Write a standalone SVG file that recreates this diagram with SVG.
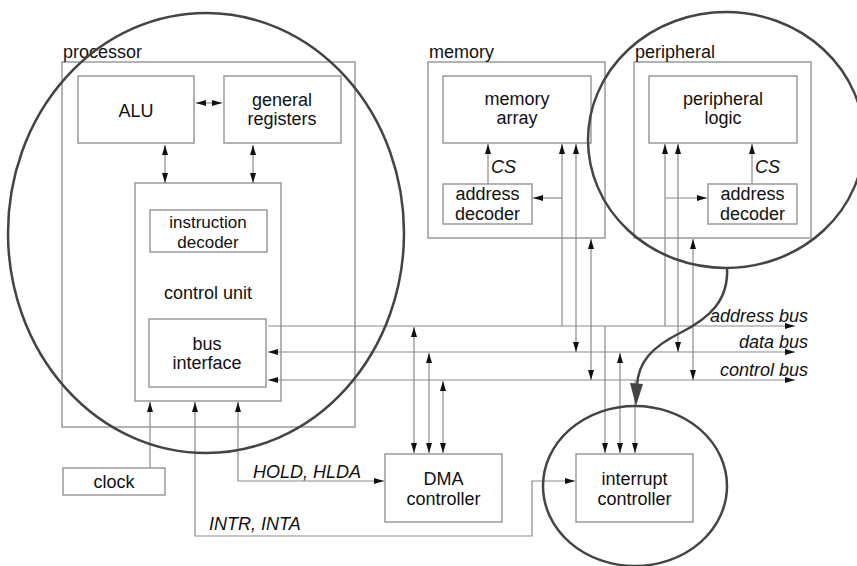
<svg xmlns="http://www.w3.org/2000/svg" width="857" height="566" viewBox="0 0 857 566">
  <style>
    .box { fill: none; stroke: #9a9a9a; stroke-width: 1.5; }
    .wire { fill: none; stroke: #8a8a8a; stroke-width: 1.2; }
    .ring { fill: none; stroke: #444; stroke-width: 2.5; }
    text { font-family: "Liberation Sans", Arial, sans-serif; font-size: 18px; fill: #111; }
    .c { text-anchor: middle; }
    .i { font-style: italic; }
    .e { text-anchor: end; }
    .s { font-size: 17px; }
  </style>
  <defs>
    <marker id="ah" viewBox="0 0 10 6" refX="10" refY="3" markerWidth="10" markerHeight="6" markerUnits="userSpaceOnUse" orient="auto-start-reverse">
      <path d="M0,0 L10,3 L0,6 z" fill="#111"/>
    </marker>
  </defs>

  <rect width="857" height="566" fill="#fff"/>

  <!-- processor -->
  <g id="processor">
    <rect class="box" x="62" y="62" width="293" height="365"/>
    <text x="63" y="58">processor</text>
  </g>
  <g id="alu">
    <rect class="box" x="78" y="76" width="116" height="67"/>
    <text class="c" x="136" y="117">ALU</text>
  </g>
  <g id="general-registers">
    <rect class="box" x="224" y="76" width="117" height="67"/>
    <text class="c" x="282" y="106">general</text>
    <text class="c" x="282" y="125">registers</text>
  </g>
  <g id="control-unit">
    <rect class="box" x="135" y="183" width="146" height="218"/>
    <text class="c" x="208" y="299">control unit</text>
  </g>
  <g id="instruction-decoder">
    <rect class="box" x="150" y="210" width="117" height="42"/>
    <text class="c s" x="208" y="228">instruction</text>
    <text class="c s" x="208" y="248">decoder</text>
  </g>
  <g id="bus-interface">
    <rect class="box" x="149" y="319" width="117" height="68"/>
    <text class="c" x="207" y="350">bus</text>
    <text class="c" x="207" y="369">interface</text>
  </g>
  <g id="clock">
    <rect class="box" x="63" y="468" width="102" height="27"/>
    <text class="c" x="114" y="488">clock</text>
  </g>

  <!-- memory -->
  <g id="memory">
    <rect class="box" x="428" y="62" width="177" height="176"/>
    <text x="429" y="58">memory</text>
  </g>
  <g id="memory-array">
    <rect class="box" x="443" y="76" width="148" height="67"/>
    <text class="c" x="517" y="105">memory</text>
    <text class="c" x="517" y="124">array</text>
  </g>
  <g id="memory-address-decoder">
    <rect class="box" x="443" y="184" width="89" height="40"/>
    <text class="c" x="487.5" y="200">address</text>
    <text class="c" x="487.5" y="220">decoder</text>
  </g>

  <!-- peripheral -->
  <g id="peripheral">
    <rect class="box" x="634" y="62" width="177" height="176"/>
    <text x="635" y="58">peripheral</text>
  </g>
  <g id="peripheral-logic">
    <rect class="box" x="649" y="76" width="148" height="67"/>
    <text class="c" x="723" y="105">peripheral</text>
    <text class="c" x="723" y="124">logic</text>
  </g>
  <g id="peripheral-address-decoder">
    <rect class="box" x="708" y="184" width="89" height="40"/>
    <text class="c" x="752.5" y="200">address</text>
    <text class="c" x="752.5" y="220">decoder</text>
  </g>

  <!-- controllers -->
  <g id="dma-controller">
    <rect class="box" x="385" y="454" width="117" height="68"/>
    <text class="c" x="443.5" y="485">DMA</text>
    <text class="c" x="443.5" y="505">controller</text>
  </g>
  <g id="interrupt-controller">
    <rect class="box" x="576" y="454" width="117" height="68"/>
    <text class="c" x="634.5" y="485">interrupt</text>
    <text class="c" x="634.5" y="505">controller</text>
  </g>

  <!-- connectors -->
  <g id="connectors" marker-end="url(#ah)">
    <!-- inside processor -->
    <path class="wire" d="M196,103 L222,103" marker-start="url(#ah)"/>
    <path class="wire" d="M165,145 L165,183" marker-start="url(#ah)"/>
    <path class="wire" d="M253,145 L253,183" marker-start="url(#ah)"/>

    <!-- system buses -->
    <path class="wire" d="M268,326 L795,326"/>
    <path class="wire" d="M268,352 L795,352" marker-start="url(#ah)"/>
    <path class="wire" d="M268,380 L795,380" marker-start="url(#ah)"/>

    <!-- clock and handshake lines -->
    <path class="wire" d="M150,468 L150,402"/>
    <path class="wire" d="M238,402 L238,481 L384,481" marker-start="url(#ah)"/>
    <path class="wire" d="M195,402 L195,536 L532,536 L532,481 L575,481" marker-start="url(#ah)"/>

    <!-- DMA taps -->
    <path class="wire" d="M414,327 L414,453" marker-start="url(#ah)"/>
    <path class="wire" d="M429,353 L429,453" marker-start="url(#ah)"/>
    <path class="wire" d="M443,381 L443,453" marker-start="url(#ah)"/>

    <!-- memory taps -->
    <path class="wire" d="M562,326 L562,144"/>
    <path class="wire" d="M562,198 L533,198"/>
    <path class="wire" d="M576,352 L576,144" marker-start="url(#ah)"/>
    <path class="wire" d="M591,380 L591,239" marker-start="url(#ah)"/>
    <path class="wire" d="M488,184 L488,144"/>

    <!-- peripheral taps -->
    <path class="wire" d="M665,326 L665,144"/>
    <path class="wire" d="M665,198 L707,198"/>
    <path class="wire" d="M678,352 L678,144" marker-start="url(#ah)"/>
    <path class="wire" d="M693,380 L693,239" marker-start="url(#ah)"/>
    <path class="wire" d="M752,184 L752,144"/>

    <!-- interrupt controller taps -->
    <path class="wire" d="M605,326 L605,453"/>
    <path class="wire" d="M620,353 L620,453" marker-start="url(#ah)"/>
    <path class="wire" d="M635,380 L635,453"/>
  </g>

  <!-- signal labels -->
  <g id="labels">
    <text class="i" x="491" y="173">CS</text>
    <text class="i" x="755" y="173">CS</text>
    <text class="i" x="253" y="478">HOLD, HLDA</text>
    <text class="i" x="209" y="530">INTR, INTA</text>
    <text class="i e" x="808" y="322">address bus</text>
    <text class="i e" x="808" y="348">data bus</text>
    <text class="i e" x="808" y="376">control bus</text>
  </g>

  <!-- highlight rings -->
  <g id="rings">
    <ellipse class="ring" cx="206" cy="233" rx="198" ry="220"/>
    <ellipse class="ring" cx="726" cy="140" rx="138" ry="128"/>
    <ellipse class="ring" cx="635" cy="486" rx="92" ry="80"/>
    <path class="ring" d="M727,267 C729,300 710,318 680,333 C652,347 638,362 637,386" stroke-width="3"/>
    <polygon points="630,383 643,384 636,406" fill="#444"/>
  </g>
</svg>
